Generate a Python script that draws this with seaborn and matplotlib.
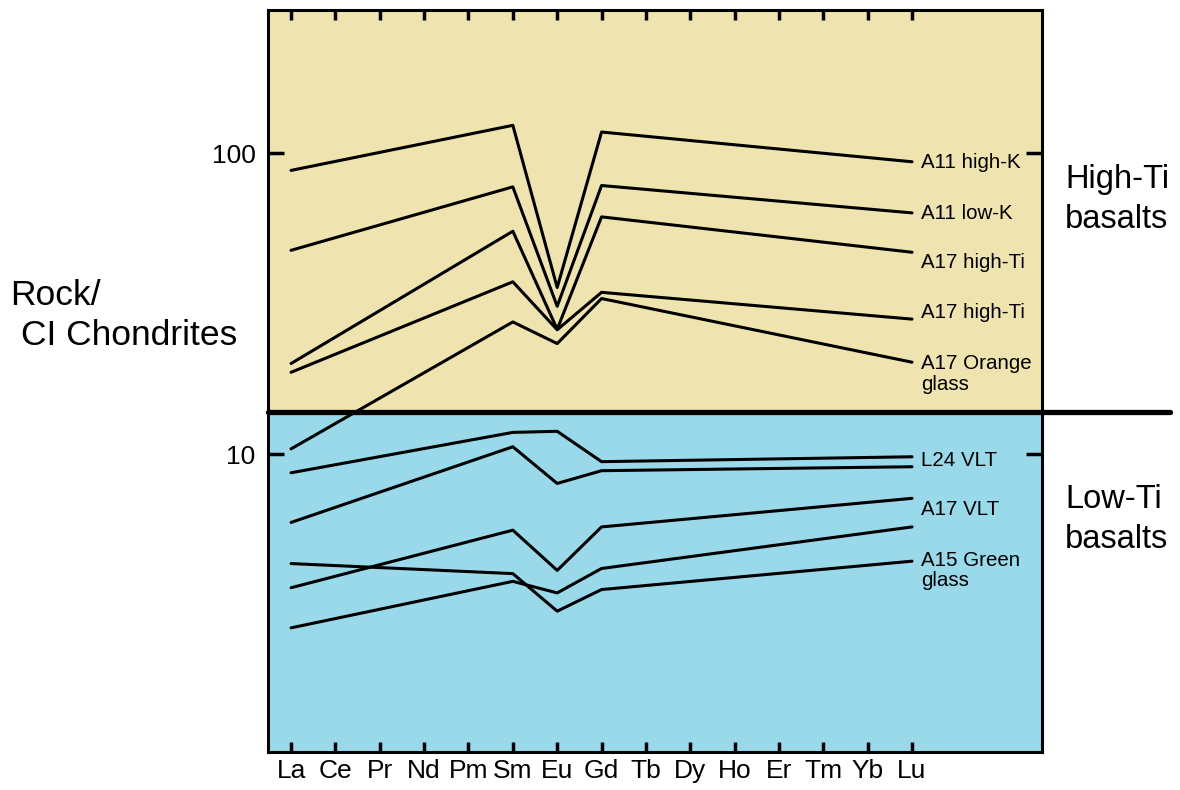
import matplotlib
matplotlib.use('Agg')
import matplotlib.pyplot as plt
from matplotlib.ticker import NullLocator
import seaborn as sns
import pandas as pd

# REE sequence on the x axis, only some of them were measured
elements = ['La', 'Ce', 'Pr', 'Nd', 'Pm', 'Sm', 'Eu', 'Gd', 'Tb', 'Dy', 'Ho', 'Er', 'Tm', 'Yb', 'Lu']
measured = ['La', 'Sm', 'Eu', 'Gd', 'Lu']

# rock / CI chondrite values
a11_high_k = [87.8, 124.0, 35.8, 117.8, 93.8]
a11_low_k = [47.6, 77.4, 31.0, 78.2, 63.4]
a17_high_ti_1 = [20.0, 55.1, 26.0, 61.5, 46.9]
a17_high_ti_2 = [18.7, 37.4, 25.9, 34.5, 28.1]
a17_orange_glass = [10.4, 27.5, 23.3, 32.9, 20.2]
l24_vlt_1 = [8.66, 11.8, 11.9, 9.43, 9.79]
l24_vlt_2 = [5.92, 10.57, 7.98, 8.80, 9.07]
a17_vlt_1 = [3.59, 5.58, 4.10, 5.72, 7.12]
a15_green_glass = [4.32, 4.00, 3.00, 3.54, 4.40]
a17_vlt_2 = [2.64, 3.77, 3.45, 4.16, 5.72]

series = {
    'A11 high-K': a11_high_k,
    'A11 low-K': a11_low_k,
    'A17 high-Ti 1': a17_high_ti_1,
    'A17 high-Ti 2': a17_high_ti_2,
    'A17 Orange glass': a17_orange_glass,
    'L24 VLT 1': l24_vlt_1,
    'L24 VLT 2': l24_vlt_2,
    'A17 VLT 1': a17_vlt_1,
    'A15 Green glass': a15_green_glass,
    'A17 VLT 2': a17_vlt_2,
}

# text at the right end of the lines, with a small vertical nudge in points
end_labels = {
    'A11 high-K': ('A11 high-K', -0.7),
    'A11 low-K': ('A11 low-K', -0.7),
    'A17 high-Ti 1': ('A17 high-Ti', -7.2),
    'A17 high-Ti 2': ('A17 high-Ti', 5.0),
    'A17 Orange glass': ('A17 Orange\nglass', -8.6),
    'L24 VLT 1': ('L24 VLT', -2.9),
    'A17 VLT 1': ('A17 VLT', -7.7),
    'A15 Green glass': ('A15 Green\nglass', -6.8),
}

high_low_split = 13.8
beige = '#EFE4B0'
blue = '#99D9EA'

rows = []
for name, vals in series.items():
    for el, v in zip(measured, vals):
        rows.append({'sample': name, 'pos': elements.index(el), 'value': v})
df = pd.DataFrame(rows)

sns.set_style('ticks')
plt.rcParams['font.family'] = ['Liberation Sans', 'DejaVu Sans']
plt.rcParams['text.color'] = 'black'
plt.rcParams['axes.edgecolor'] = 'black'
plt.rcParams['xtick.color'] = 'black'
plt.rcParams['ytick.color'] = 'black'

fig = plt.figure(figsize=(11.8, 7.9), dpi=100)
ax = fig.add_axes([268 / 1180, 38 / 790, 774 / 1180, 742 / 790])

ax.set_yscale('log')
ax.set_ylim(1.02, 300)
ax.set_xlim(-0.52, 16.93)

ax.axhspan(1.02, high_low_split, color=blue, zorder=0, lw=0)
ax.axhspan(high_low_split, 300, color=beige, zorder=0, lw=0)

sns.lineplot(data=df, x='pos', y='value', units='sample', estimator=None,
             sort=False, color='black', linewidth=2.2, ax=ax, zorder=3)

ax.axhline(high_low_split, xmin=0, xmax=(1170 - 268) / 774, color='black',
           lw=3.8, clip_on=False, zorder=4)

for name, (txt, dy) in end_labels.items():
    ax.annotate(txt, xy=(len(elements) - 1, series[name][-1]), xytext=(6.5, dy),
                textcoords='offset points', va='center', ha='left',
                fontsize=14.8, linespacing=1.1, color='black')

ax.set_xticks(range(len(elements)))
ax.set_xticklabels(elements)
ax.set_yticks([10, 100])
ax.set_yticklabels(['10', '100'])
ax.yaxis.set_minor_locator(NullLocator())
ax.set_xlabel('')
ax.set_ylabel('')

ax.tick_params(axis='x', direction='in', length=7.5, width=2.5, top=True, bottom=True,
               labelsize=19, pad=5, colors='black')
ax.tick_params(axis='y', direction='in', length=11.5, width=2.5, left=True, right=True,
               labelsize=19, pad=9, colors='black')
for sp in ax.spines.values():
    sp.set_linewidth(2.2)
    sp.set_color('black')
    sp.set_zorder(5)

fig.text(10 / 1180, 1 - 305 / 790, 'Rock/', fontsize=25.5, va='baseline')
fig.text(21 / 1180, 1 - 345 / 790, 'CI Chondrites', fontsize=25.5, va='baseline')
fig.text(1065 / 1180, 1 - 188 / 790, 'High-Ti', fontsize=23.5, va='baseline')
fig.text(1065 / 1180, 1 - 228 / 790, 'basalts', fontsize=23.5, va='baseline')
fig.text(1065 / 1180, 1 - 508 / 790, 'Low-Ti', fontsize=23.5, va='baseline')
fig.text(1065 / 1180, 1 - 548 / 790, 'basalts', fontsize=23.5, va='baseline')

fig.savefig('out.png', dpi=100)
plt.close(fig)
